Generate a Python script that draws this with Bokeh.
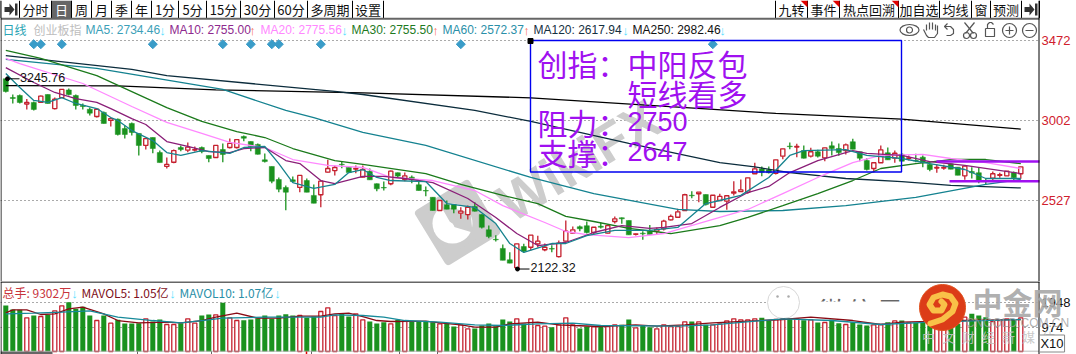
import numpy as np
from bokeh.embed import file_html
from bokeh.resources import INLINE
from bokeh.layouts import column
from bokeh.models import ColumnDataSource, FixedTicker, Label, Range1d, Span
from bokeh.plotting import figure

# ---------- candles ----------
opens = [3246,3135,3147,3097,3106,3106,3153,3070,3135,3180,3147,3088,3066,3023,3047,3000,3007,2952,2982,2923,2852,2899,2810,2728,2753,2840,2824,2825,2840,2793,
         2781,2828,2840,2840,2905,2875,2858,2767,2728,2651,2604,2649,2604,2645,2557,2561,2694,2704,2741,2724,2713,2665,2700,2626,2604,2626,2691,2651,2665,2620,
         2586,2546,2468,2502,2503,2452,2444,2492,2444,2354,2298,2244,2177,2130,2255,2251,2271,2236,2243,2196,2287,2334,2372,2378,2338,2375,2334,2403,2425,2409,
         2327,2334,2346,2346,2360,2413,2428,2468,2558,2567,2562,2487,2527,2523,2570,2580,2576,2685,2714,2708,2688,2789,2848,2843,2822,2789,2815,2779,2850,2834,
         2822,2874,2815,2763,2716,2750,2809,2777,2800,2776,2763,2783,2740,2719,2719,2744,2724,2673,2698,2691,2645,2659,2676,2673,2692,2685]
closes = [3171,3130,3106,3106,3065,3144,3100,3125,3183,3153,3088,3082,3043,3066,2982,3011,2917,2917,2929,2852,2893,2834,2751,2740,2822,2828,2842,2828,2816,2775,
          2852,2799,2864,2887,2895,2846,2800,2757,2641,2594,2576,2639,2675,2576,2511,2641,2716,2722,2738,2692,2716,2710,2649,2596,2601,2700,2671,2673,2649,2586,
          2583,2468,2527,2476,2476,2464,2487,2464,2369,2314,2295,2174,2157,2271,2228,2322,2287,2251,2240,2275,2346,2354,2360,2338,2369,2369,2379,2419,2419,2324,
          2330,2330,2326,2357,2405,2433,2460,2561,2555,2576,2503,2558,2551,2555,2578,2590,2661,2714,2694,2691,2767,2832,2845,2846,2777,2815,2789,2838,2834,2810,
          2856,2830,2777,2710,2750,2826,2767,2806,2759,2779,2760,2750,2710,2722,2722,2712,2676,2730,2691,2645,2642,2685,2679,2700,2661,2726]
highs = [3246,3153,3153,3126,3112,3147,3153,3135,3183,3188,3153,3100,3076,3066,3053,3017,3011,2970,2988,2923,2893,2899,2822,2781,2828,2852,2870,2846,2846,2793,
         2852,2864,2893,2887,2911,2875,2864,2805,2728,2663,2616,2669,2675,2657,2622,2645,2767,2734,2759,2728,2734,2734,2716,2627,2639,2704,2692,2692,2675,2645,
         2610,2546,2527,2527,2503,2487,2497,2517,2444,2379,2322,2267,2222,2271,2271,2322,2319,2273,2263,2291,2409,2373,2379,2403,2369,2395,2379,2432,2427,2409,
         2332,2346,2383,2368,2413,2444,2478,2567,2582,2576,2562,2558,2567,2555,2641,2651,2661,2750,2728,2728,2767,2832,2870,2862,2852,2838,2826,2838,2875,2864,
         2864,2891,2815,2777,2750,2852,2840,2822,2806,2793,2803,2793,2753,2740,2738,2747,2724,2730,2724,2720,2659,2698,2691,2700,2698,2726]
lows = [3165,3100,3100,3065,3059,3106,3100,3065,3135,3147,3065,3065,3029,3017,2982,2964,2911,2893,2911,2793,2828,2806,2751,2716,2747,2818,2812,2816,2806,2753,
        2781,2753,2834,2834,2877,2818,2799,2751,2629,2576,2470,2633,2576,2576,2511,2487,2692,2675,2718,2692,2688,2663,2649,2582,2586,2617,2663,2641,2629,2586,
        2552,2468,2468,2476,2452,2419,2415,2462,2362,2304,2285,2174,2157,2122,2220,2232,2249,2228,2222,2190,2285,2332,2346,2332,2326,2362,2332,2391,2389,2324,
        2320,2295,2326,2326,2350,2409,2425,2468,2541,2517,2497,2487,2527,2472,2557,2580,2567,2685,2670,2686,2681,2771,2830,2783,2775,2781,2781,2759,2793,2791,
        2799,2830,2759,2704,2692,2750,2767,2750,2759,2763,2753,2724,2700,2691,2708,2712,2676,2649,2657,2629,2622,2645,2661,2673,2645,2655]

# ---------- moving averages of price (index, value) ----------
ma5_idx = [0,2,4,6,8,10,13,15,16,18,21,23,25,28,32,34,37,39,41,44,47,49,51,53,55,60,63,67,70,72,74,78,80,83,87,92,96,100,102,105,109,112,114,120,123,128,132,137,140,145]
ma5_val = [3277,3194,3118,3106,3135,3100,3070,3017,3000,2940,2881,2810,2793,2822,2805,2840,2846,2745,2633,2598,2622,2692,2710,2663,2645,2639,2509,2486,2391,2273,2220,2273,2273,2320,2350,2350,2368,2509,2527,2557,2663,2793,2822,2828,2793,2775,2745,2710,2657,2657]
ma10_idx = [0,4,7,10,13,15,18,20,23,26,29,32,34,37,40,42,45,47,51,54,57,61,66,70,73,76,80,84,88,92,94,98,102,106,109,112,116,121,123,128,132,137,145]
ma10_val = [3312,3224,3165,3129,3106,3070,3011,2976,2875,2846,2816,2810,2834,2840,2763,2745,2645,2627,2669,2669,2657,2633,2539,2427,2332,2261,2279,2338,2379,2362,2368,2391,2486,2574,2610,2692,2763,2822,2805,2793,2757,2734,2686]
ma20_idx = [0,2,11,18,23,28,32,37,41,46,51,55,61,67,71,77,80,83,89,94,102,106,111,116,121,125,131,135,140,145]
ma20_val = [3366,3336,3218,3082,2988,2923,2870,2840,2769,2734,2722,2663,2645,2586,2497,2397,2344,2326,2308,2332,2427,2474,2568,2663,2751,2793,2799,2775,2751,2716]
ma30_idx = [0,5,13,23,28,33,37,41,47,51,60,65,71,76,80,84,89,95,102,106,111,116,121,125,130,135,140,145]
ma30_val = [3413,3366,3265,3076,2994,2934,2899,2834,2763,2740,2686,2622,2557,2509,2433,2403,2362,2332,2379,2427,2497,2568,2645,2716,2745,2769,2769,2745]
ma60_idx = [0,13,31,40,44,51,60,75,84,96,102,111,120,130,140,145]
ma60_val = [3360,3307,3183,3059,3017,2930,2852,2663,2568,2474,2462,2468,2497,2545,2622,2651]
ma120_idx = [0,18,23,47,51,67,75,89,102,107,112,120,128,135,145]
ma120_val = [3383,3301,3265,3171,3153,3059,2994,2864,2751,2725,2692,2657,2639,2616,2601]
ma250_idx = [0,16,30,51,75,100,110,128,145]
ma250_val = [3206,3204,3180,3163,3133,3068,3041,3008,2949]

signal_idx = [4,5,8,21,31,35,38,39,45,65,101]
signal_price = [3450]*len(signal_idx)
price_ticks = [2527,3002,3472]
high_mark = 3245.76
low_mark = 2122.32
resist_level = 2757
support_level = 2641

# ---------- volume ----------
volume = [1835,1675,1662,1343,1436,1396,1463,1622,1822,1968,1702,1782,1436,1236,1436,1130,1263,1117,1117,1130,
          1303,1197,1276,1077,1077,1130,1303,1130,1436,1476,1463,1941,1343,1236,1250,1276,1330,1436,1303,1436,
          1489,1436,1436,1343,1396,1596,1742,1436,1529,1396,1503,1263,1197,1117,1170,1103,1263,1223,1197,1197,
          1210,1170,1103,1130,997,1064,904,917,1037,1117,1010,1276,1197,1303,1117,1303,1037,1010,970,1064,
          1343,1064,917,997,984,997,997,1064,1064,1276,944,1037,970,904,1064,997,997,1183,1197,1183,
          1064,1064,1103,1223,1303,1263,1263,1303,1343,1236,1276,1303,1303,1303,1250,1263,1157,1157,1263,1130,
          1077,1170,1077,1037,1064,1077,1170,1223,1236,1143,1143,1170,1037,1037,1037,1064,1103,1370,1503,1436,
          1370,1197,1236,1303,1263,1343]
mavol5_idx = [0,1,3,5,7,9,11,14,16,19,23,25,28,30,33,36,39,42,45,47,49,51,53,55,60,62,65,67,70,72,76,79,81,85,90,93,97,101,106,111,115,121,125,128,132,137,145]
mavol5_val = [1542,1662,1662,1476,1503,1702,1768,1503,1236,1143,1170,1143,1236,1370,1529,1330,1330,1409,1409,1503,1529,1396,1236,1197,1210,1143,1064,970,970,1103,1170,1064,1037,997,1064,1010,1064,1143,1210,1276,1370,1236,1077,1170,1197,1236,1276]
mavol10_idx = [0,4,8,12,16,21,25,28,31,37,45,47,51,54,57,62,67,71,76,81,85,96,101,111,118,125,132,145]
mavol10_val = [1503,1529,1569,1622,1370,1236,1143,1236,1330,1370,1370,1463,1436,1370,1236,1170,1064,1037,1103,1130,1037,1010,1064,1303,1236,1077,1170,1276]
volume_ticks = [974,1948]

# ---------- texts ----------
tabs_left = ["分时","日","周","月","季","年","1分","5分","15分","30分","60分","多周期","设置"]
tabs_right = ["九转","事件","热点回溯","加自选","均线","窗","预测"]
ma_legend = [("MA5: 2734.46","↓"),("MA10: 2755.00","↑"),("MA20: 2775.56","↓"),("MA30: 2755.50","↑"),
             ("MA60: 2572.37","↑"),("MA120: 2617.94","↓"),("MA250: 2982.46","↓")]
vol_legend = [("总手: 9302万","↓"),("MAVOL5: 1.05亿","↓"),("MAVOL10: 1.07亿","↓")]

# ---------- layout constants (reference pixels) ----------
PANE_W, FULL_W, H1, H2 = 1039, 1076, 281, 73
RED, GREEN = "#c5202e", "#1a921e"
PURPLE = "#a010f0"
CJK = "Noto Sans CJK SC"
LAT = "Liberation Sans"
UP, DN = "#55dfff", "#f8705a"

def X(px): return (px - 5.3) / 7.0
def Y1(py): return 2527 + (200 - py) * 5.906
def Y2(py): return (351 - py) * 39.9

p1 = figure(frame_width=FULL_W, frame_height=H1, x_range=Range1d(X(0), X(FULL_W)),
            y_range=Range1d(Y1(H1), Y1(0)), x_axis_location=None, y_axis_location="right",
            toolbar_location=None, output_backend="svg", min_border=0,
            outline_line_color=None, background_fill_color="white", border_fill_color="white")
p2 = figure(frame_width=FULL_W, frame_height=H2, x_range=p1.x_range,
            y_range=Range1d(Y2(354), Y2(281)), x_axis_location=None, y_axis_location="right",
            toolbar_location=None, output_backend="svg", min_border=0,
            outline_line_color=None, background_fill_color="white", border_fill_color="white")

for p, ticks, col in ((p1, price_ticks, "#d0202c"), (p2, volume_ticks, "#111111")):
    ax = p.yaxis[0]
    ax.ticker = FixedTicker(ticks=ticks)
    ax.major_tick_in = 0; ax.major_tick_out = 0; ax.minor_tick_in = 0; ax.minor_tick_out = 0
    ax.axis_line_color = None
    ax.major_label_text_color = col
    ax.major_label_text_font = LAT
    ax.major_label_text_font_size = "13px"
    ax.major_label_standoff = -(FULL_W - PANE_W - 2)
    p.xgrid.visible = False
    g = p.ygrid[0]
    g.ticker = FixedTicker(ticks=ticks)
    g.grid_line_color = "#555555"; g.grid_line_dash = "1 3"; g.grid_line_width = 1
    p.add_layout(Span(location=X(0.5), dimension="height", line_color="black", line_width=1))
    p.quad(left=[X(PANE_W)], right=[X(FULL_W)], top=[p.y_range.end], bottom=[p.y_range.start],
           fill_color="white", line_color=None)
    p.add_layout(Span(location=X(PANE_W - 0.5), dimension="height", line_color="black", line_width=1))

def label(p, yf, px, py, text, size, color, font=LAT, align="left", style="normal", **kw):
    lb = Label(x=X(px), y=yf(py), text=text, text_font=font, text_font_size=f"{size}px",
               text_color=color, text_align=align, text_baseline="middle", text_font_style=style, **kw)
    p.add_layout(lb)
    return lb

# ---------- WikiFX watermark ----------
WM = "#cdcdcd"
p1.rect([X(457)], [Y1(222)], width=56, height=56, width_units="screen", height_units="screen",
        angle=0.55, fill_color=WM, line_color=WM, line_width=8, line_join="round")
p1.scatter([X(452)], [Y1(223)], marker="circle", size=40, fill_color="white", line_color=None)
p1.patch([X(v) for v in (440,470,472,452)], [Y1(v) for v in (205,212,232,226)], fill_color=WM, line_color=None)
p1.scatter([X(447)], [Y1(228)], marker="circle", size=14, fill_color="white", line_color=None)
p1.text([X(578)], [Y1(160)], text=["WikiFX"], angle=0.55, text_align="center", text_baseline="middle",
        text_color=WM, text_font_size="54px", text_font_style="bold", text_font={"value": LAT})

# ---------- candles ----------
idx = np.arange(len(opens))
o, c, h, l = map(np.array, (opens, closes, highs, lows))
up = c >= o
src_up = ColumnDataSource(dict(x=idx[up], top=c[up], bottom=o[up], h=h[up], l=l[up]))
src_dn = ColumnDataSource(dict(x=idx[~up], top=o[~up], bottom=c[~up], h=h[~up], l=l[~up]))
p1.segment("x", "h", "x", "l", source=src_up, line_color=RED, line_width=1.3)
p1.segment("x", "h", "x", "l", source=src_dn, line_color=GREEN, line_width=1.3)
p1.vbar("x", 0.6, "bottom", "top", source=src_up, fill_color="white", line_color=RED, line_width=1.3)
p1.vbar("x", 0.72, "bottom", "top", source=src_dn, fill_color=GREEN, line_color=GREEN, line_width=0.5)

# ---------- moving averages ----------
for xs, ys, col in ((ma250_idx, ma250_val, "#000000"), (ma120_idx, ma120_val, "#0b2c3c"),
                    (ma60_idx, ma60_val, "#148290"), (ma30_idx, ma30_val, "#1b7a1b"),
                    (ma20_idx, ma20_val, "#ff88ff"), (ma10_idx, ma10_val, "#8a1f78"),
                    (ma5_idx, ma5_val, "#17838e")):
    p1.line(xs, ys, line_color=col, line_width=1.3)

p1.scatter(signal_idx, signal_price, marker="square", size=6.4, angle=np.pi/4,
           fill_color="#3a9cc8", line_color="#3a9cc8")

# ---------- high / low marks ----------
p1.segment([X(7), X(517)], [high_mark, low_mark], [X(19), X(529)], [high_mark, low_mark], line_color="black", line_width=1)
p1.scatter([X(7), X(517)], [high_mark, low_mark], marker="circle", size=4, fill_color="black", line_color="black")
label(p1, Y1, 19.5, 77, "3245.76", 12.5, "#111111")
label(p1, Y1, 530, 267, "2122.32", 12.5, "#111111")

# ---------- drawn box and note ----------
p1.quad(left=[X(530)], right=[X(901)], top=[Y1(40)], bottom=[Y1(171.5)], fill_color=None,
        line_color="#0000f0", line_width=1.4)
p1.quad(left=[X(527.5)], right=[X(532.5)], top=[Y1(38)], bottom=[Y1(43)], fill_color="black", line_color="black")
label(p1, Y1, 537, 62, "创指\uff1a中阳反包", 30, PURPLE, CJK)
label(p1, Y1, 627, 92, "短线看多", 30, PURPLE, CJK)
label(p1, Y1, 537, 121, "阻力\uff1a", 30, PURPLE, CJK)
label(p1, Y1, 627, 121, "2750", 27, PURPLE)
label(p1, Y1, 537, 151, "支撑\uff1a", 30, PURPLE, CJK)
label(p1, Y1, 627, 151, "2647", 27, PURPLE)
p1.segment([X(936), X(949)], [resist_level, support_level], [X(PANE_W), X(PANE_W)], [resist_level, support_level],
           line_color=PURPLE, line_width=2.4)

# ---------- tab bar ----------
edges_l = [0,19,51,71,91,111,131,151,178,206,240,274,307,352,383]
edges_r = [775,807,839,898,939,971,990,1021,1039]
p1.quad(left=[X(51)], right=[X(71)], top=[Y1(0)], bottom=[Y1(18)], fill_color="#666666", line_color=None)
vx = [X(v) for v in edges_l + edges_r]
p1.segment(vx, [Y1(0)]*len(vx), vx, [Y1(17.5)]*len(vx), line_color="black", line_width=1)
p1.segment([X(0)], [Y1(18.3)], [X(PANE_W)], [Y1(18.3)], line_color="#666666", line_width=2)
for i, t in enumerate(tabs_left):
    a, b = edges_l[i+1], edges_l[i+2]
    label(p1, Y1, (a+b)/2, 9, t, 13, "white" if t == "日" else "#111111", CJK, "center")
for i, t in enumerate(tabs_right):
    a, b = edges_r[i], edges_r[i+1]
    label(p1, Y1, (a+b)/2, 9, t, 13, "#111111", CJK, "center")
for r in (807, 839, 898):
    p1.patch([X(r-7), X(r), X(r)], [Y1(0), Y1(0), Y1(7)], fill_color="#e00000", line_color=None)
for a in (4, 1024):
    p1.patch([X(v) for v in (a, a+5, a+5, a+10, a+5, a+5, a)],
             [Y1(v) for v in (6.5, 6.5, 3, 9, 15, 11.5, 11.5)], fill_color="#333333", line_color=None)
    p1.quad(left=[X(a+10.5)], right=[X(a+13)], top=[Y1(3)], bottom=[Y1(15)], fill_color="#333333", line_color=None)

# ---------- legend row ----------
label(p1, Y1, 2, 29, "日线", 12, "#2aa4b4", CJK)
label(p1, Y1, 33, 29, "创业板指", 12, "#bdbdbd", CJK)
ma_cols = ["#3c9fb8", "#8e2a8e", "#ff88ff", "#1e7a1e", "#2a8fa8", "#14303f", "#111111"]
ma_x = [85, 169, 260, 351, 442, 533, 632]
ma_ax = [162, 252, 344, 435, 526, 625, 722]
for (t, arrow), col, mx, ax_ in zip(ma_legend, ma_cols, ma_x, ma_ax):
    label(p1, Y1, mx, 29, t, 12, col)
    label(p1, Y1, ax_, 30, arrow, 13, DN if arrow == "↑" else UP, LAT, "center")

# ---------- tool icons ----------
ICON = "#555555"
icon_paths = [
    [(926,30),(926,24)], [(929,29),(929,22)], [(932,29),(932,22)], [(935,30),(935,24)],
    [(923,29),(926,35),(928,37),(934,37),(937,33),(937,25)],
    [(947,23),(944,26),(947,29)], [(944,26),(950,26),(953,29),(953,33),(950,35),(946,35)],
    [(964,22),(973,33)], [(974,22),(965,33)],
    [(985,28),(994,28),(994,36),(985,36),(985,28)], [(987,28),(987,24),(989,22),(991,22),(993,24)],
    [(1005,30),(1013,30)], [(1009,26),(1009,34)], [(1025,30),(1033,30)],
]
p1.multi_line([[X(a) for a, _ in q] for q in icon_paths], [[Y1(b) for _, b in q] for q in icon_paths],
              line_color=ICON, line_width=1.2)
p1.ellipse([X(909)], [Y1(29.5)], width=19, height=11, width_units="screen", height_units="screen",
           fill_color=None, line_color=ICON, line_width=1.2)
p1.scatter([X(909)], [Y1(29.5)], marker="circle", size=6, fill_color=None, line_color=ICON, line_width=1.2)
p1.scatter([X(966), X(973), X(1009), X(1029)], [Y1(35), Y1(35), Y1(30), Y1(30)], marker="circle",
           size=[6, 6, 14, 14], fill_color=None, line_color=ICON, line_width=1.2)

# ---------- volume pane ----------
p2.segment([X(0)], [Y2(281.5)], [X(PANE_W)], [Y2(281.5)], line_color="#666666", line_width=2)
p2.text([X(817)], [Y2(310)], text=["微信号\uff1a"], text_color="#666666", text_font_size="29px",
        text_font={"value": CJK}, text_baseline="middle")
p2.quad(left=[X(766)], right=[X(918)], top=[Y2(301)], bottom=[Y2(325)], fill_color="white", line_color=None)
p2.scatter([X(783)], [Y2(302)], marker="circle", size=32, fill_color="white", line_color="#d8d8d8", line_width=1)
p2.scatter([X(777), X(788)], [Y2(296), Y2(296)], marker="circle", size=2.5, fill_color="#aaaaaa", line_color=None)

v = np.array(volume)
vsrc_up = ColumnDataSource(dict(x=idx[up], top=v[up], bottom=np.zeros(up.sum())))
vsrc_dn = ColumnDataSource(dict(x=idx[~up], top=v[~up], bottom=np.zeros((~up).sum())))
p2.vbar("x", 0.58, "bottom", "top", source=vsrc_up, fill_color="white", line_color=RED, line_width=1.3)
p2.vbar("x", 0.72, "bottom", "top", source=vsrc_dn, fill_color=GREEN, line_color=None)
p2.line(mavol5_idx, mavol5_val, line_color="#8a0a14", line_width=1.3)
p2.line(mavol10_idx, mavol10_val, line_color="#168a9a", line_width=1.3)

# time strip at the foot of the pane
p2.quad(left=[X(0), X(361)], right=[X(52), X(511)], top=[Y2(351)], bottom=[Y2(354)], fill_color="#666666", line_color=None)
p2.segment([X(0)], [Y2(350.7)], [X(PANE_W)], [Y2(350.7)], line_color="#aaaaaa", line_width=0.8)
tx = [X(q) for q in (137, 211, 311, 399, 437)]
p2.segment(tx, [Y2(351)]*5, tx, [Y2(354)]*5, line_color="#666666", line_width=1)
p2.segment([X(306)], [Y2(351)], [X(306)], [Y2(354)], line_color="#e00000", line_width=1.5)

vol_cols = ["#c8343c", "#7e1020", "#2a8fa8"]
vol_x = [2, 81, 179]
vol_ax = [74, 172, 277]
label(p2, Y2, vol_x[0], 292, vol_legend[0][0], 12, vol_cols[0], CJK)
label(p2, Y2, vol_x[1], 292, vol_legend[1][0], 12, vol_cols[1], CJK)
label(p2, Y2, vol_x[2], 292, vol_legend[2][0], 12, vol_cols[2], CJK)
for (t, arrow), ax_ in zip(vol_legend, vol_ax):
    label(p2, Y2, ax_, 293, arrow, 13, UP, LAT, "center")

# ---------- publisher mark ----------
p2.scatter([X(942)], [Y2(307)], marker="circle", size=46, fill_color="#dc3c18", line_color="#e0501c")
swirl = [(930,323),(942,319),(952,311),(955,303),(950,296),(942,294),(933,297),(929,304),(933,310),(941,310),(944,304),(941,301)]
p2.line([X(a) for a, _ in swirl], [Y2(b) for _, b in swirl], line_color="#f9c148", line_width=6, line_cap="round", line_join="round")
label(p2, Y2, 1017, 300, "中金网", 30, "#a8a8a8", CJK, "center", "bold", text_alpha=0.92)
label(p2, Y2, 1017, 322, "CNGOLD.COM.CN", 12, "#9a9a9a", LAT, "center", text_alpha=0.8)
for j, ch in enumerate("中文财经新媒体"):
    label(p2, Y2, 928 + 20*j, 336, ch, 13, "#c4c4c4", CJK, "center", text_alpha=0.9)
label(p2, Y2, 1051.5, 343, "X10", 13, "#111111", LAT, "center",
      border_line_color="#888888", background_fill_color="white", padding=1)

page = column(p1, p2, spacing=0)
open("out.html", "w").write(file_html(page, INLINE))
